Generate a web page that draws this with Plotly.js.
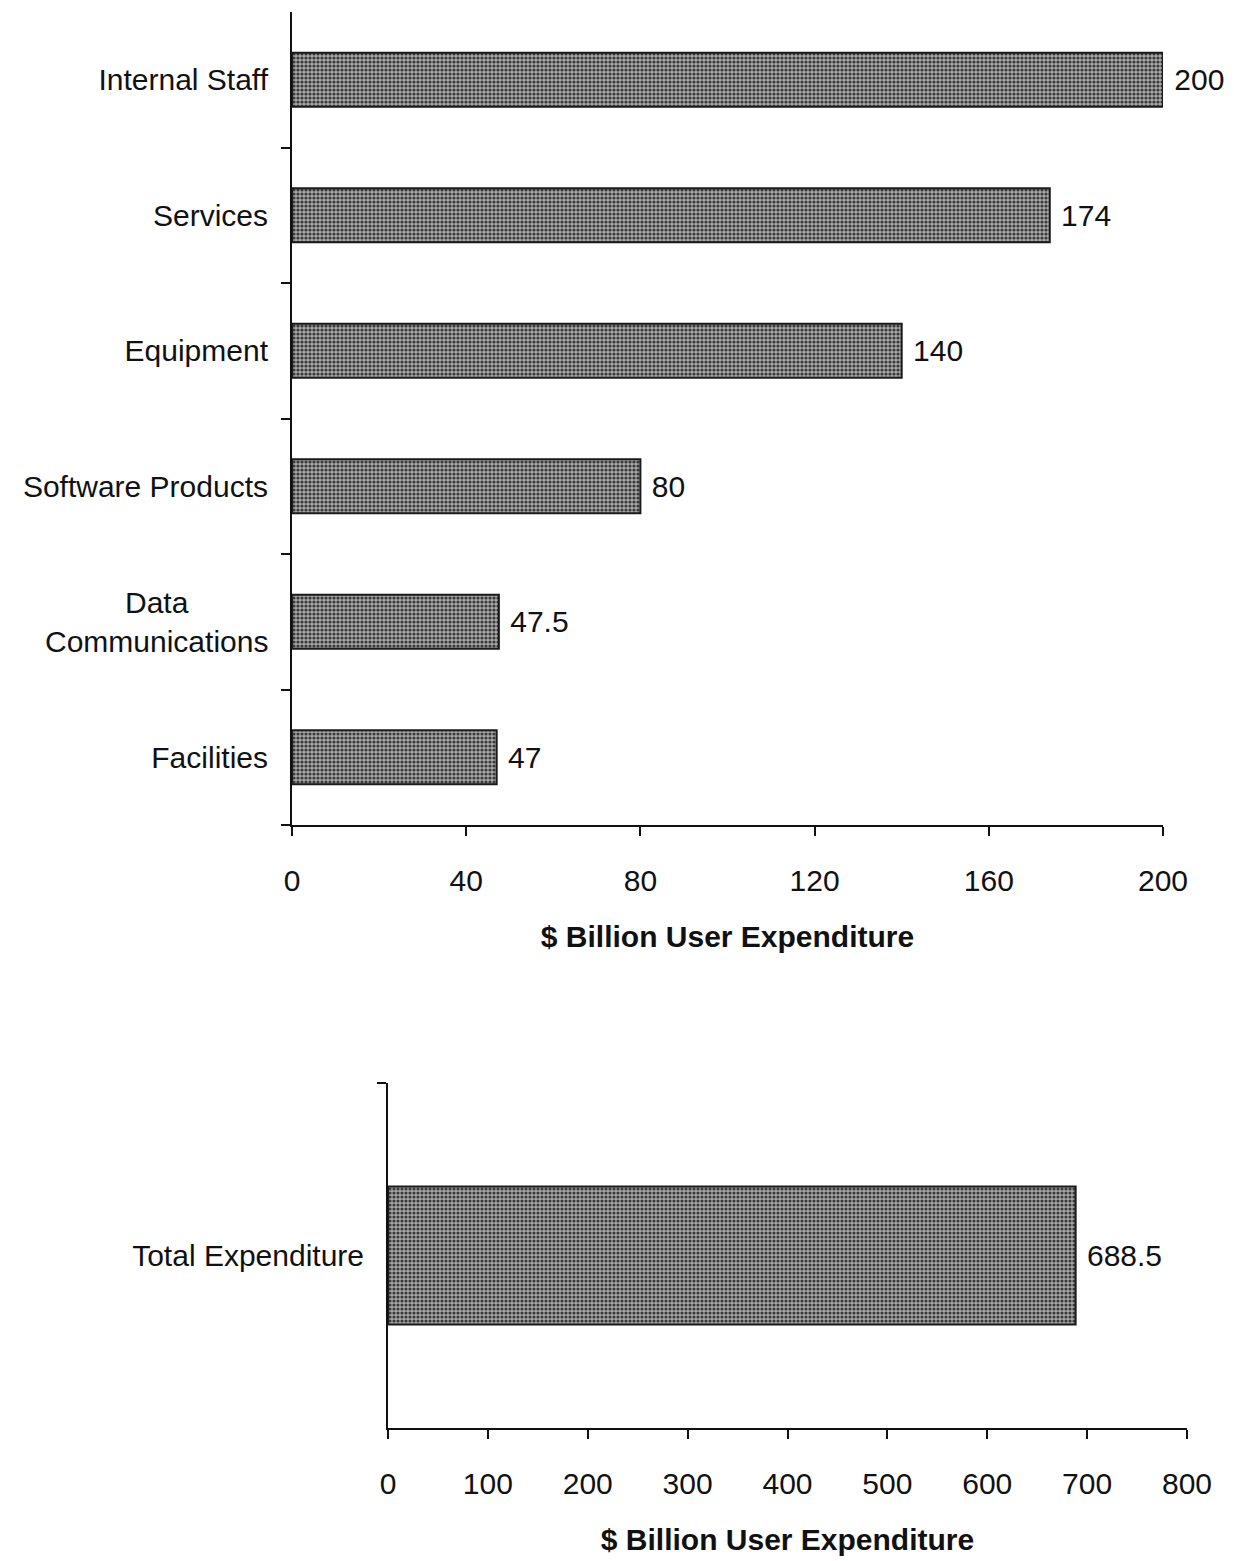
<!DOCTYPE html>
<html>
<head>
<meta charset="utf-8">
<script src="https://cdn.plot.ly/plotly-3.0.1.min.js"></script>
<style>html,body{margin:0;padding:0;background:#fff;}#chart{width:1234px;height:1561px;}</style>
</head>
<body>
<div id="chart"></div>
<script>
const categories = ["Internal Staff", "Services", "Equipment", "Software Products", "Data Communications", "Facilities"];
const values = [200, 174, 140, 80, 47.5, 47];
const totalCategory = ["Total Expenditure"];
const totalValue = [688.5];
const xTitle = "$ Billion User Expenditure";
const topTicks = [0, 40, 80, 120, 160, 200];
const bottomTicks = [0, 100, 200, 300, 400, 500, 600, 700, 800];

const font = "Liberation Sans, Arial, Helvetica, sans-serif";
const FS = 30;
const barLine = {color: "#1a1a1a", width: 2};
const barMarker = {color: "#999999", line: barLine, pattern: {shape: ".", fgcolor: "#3a3a3a", bgcolor: "#a8a8a8", size: 4, solidity: 0.5}};

const traces = [
  {
    type: "bar", orientation: "h", x: values, y: categories,
    xaxis: "x", yaxis: "y",
    marker: barMarker,
    text: values.map(v => " " + v), textposition: "outside", cliponaxis: false,
    textfont: {family: font, size: FS, color: "#111"},
    hoverinfo: "none", showlegend: false
  },
  {
    type: "bar", orientation: "h", x: totalValue, y: totalCategory,
    xaxis: "x2", yaxis: "y2",
    marker: barMarker,
    text: totalValue.map(v => " " + v), textposition: "outside", cliponaxis: false,
    textfont: {family: font, size: FS, color: "#111"},
    hoverinfo: "none", showlegend: false
  }
];

const axisCommon = {
  showgrid: false, zeroline: false, showline: true, linecolor: "#111", linewidth: 2,
  ticks: "outside", ticklen: 9, tickwidth: 2, tickcolor: "#111",
  tickfont: {family: font, size: FS, color: "#111"}
};

const layout = {
  width: 1234, height: 1561,
  margin: {l: 0, r: 0, t: 0, b: 0},
  paper_bgcolor: "#ffffff", plot_bgcolor: "#ffffff",
  bargap: 0.6,
  font: {family: font, color: "#111"},
  xaxis: Object.assign({}, axisCommon, {
    domain: [292/1234, 1163/1234], anchor: "y",
    range: [0, 200], tickvals: topTicks, ticklabelstandoff: 19,
    title: {text: xTitle, font: {family: font, size: FS, color: "#111", weight: "bold"}, standoff: 30}
  }),
  yaxis: Object.assign({}, axisCommon, {
    domain: [1 - 825/1561, 1 - 12/1561], anchor: "x",
    type: "category", categoryorder: "array", categoryarray: categories.slice().reverse(),
    tickson: "boundaries", ticklen: 9, ticklabelstandoff: 16,
    tickvals: categories, ticktext: categories.map(c => c === "Data Communications" ? " " : c)
  }),
  xaxis2: Object.assign({}, axisCommon, {
    domain: [388/1234, 1187/1234], anchor: "y2",
    range: [0, 800], tickvals: bottomTicks, ticklabelstandoff: 19,
    title: {text: xTitle, font: {family: font, size: FS, color: "#111", weight: "bold"}, standoff: 30}
  }),
  yaxis2: Object.assign({}, axisCommon, {
    domain: [1 - 1428/1561, 1 - 1083/1561], anchor: "x2",
    type: "category", tickson: "boundaries", ticklen: 9, ticklabelstandoff: 16
  }),
  annotations: [
    {
      xref: "paper", yref: "y", x: 270/1234, y: "Data Communications",
      xanchor: "right", yanchor: "middle", align: "center", showarrow: false,
      text: "Data<br>Communications",
      font: {family: font, size: FS, color: "#111"}
    }
  ]
};

Plotly.newPlot("chart", traces, layout, {displayModeBar: false, staticPlot: true});
</script>
</body>
</html>
